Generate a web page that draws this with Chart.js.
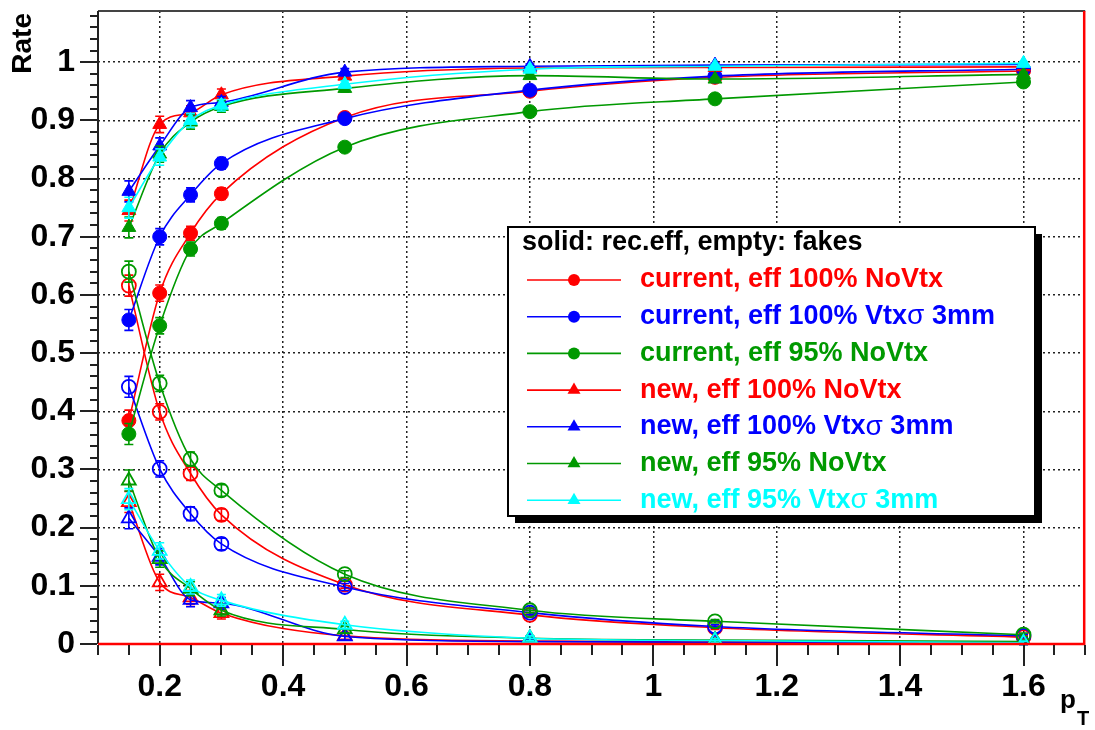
<!DOCTYPE html>
<html>
<head>
<meta charset="utf-8">
<script src="https://cdn.jsdelivr.net/npm/chart.js@4.4.0/dist/chart.umd.min.js"></script>
<style>
  html, body { margin: 0; padding: 0; background: #fff; }
  #wrap { width: 1095px; height: 730px; position: relative; }
</style>
</head>
<body>
<div id="wrap"><canvas id="rateChart" width="1095" height="730"></canvas></div>
<script>
// pT bins where the rates were evaluated
const pt = [0.15, 0.2, 0.25, 0.3, 0.5, 0.8, 1.1, 1.6];

// reconstruction efficiency (solid markers)
const effCurNoVtx    = [0.384, 0.603, 0.706, 0.774, 0.905, 0.950, 0.974, 0.985];
const effCurVtx3     = [0.557, 0.700, 0.772, 0.826, 0.903, 0.952, 0.976, 0.988];
const effCur95NoVtx  = [0.361, 0.547, 0.679, 0.723, 0.854, 0.915, 0.937, 0.966];
const effNewNoVtx    = [0.745, 0.893, 0.913, 0.944, 0.976, 0.990, 0.991, 0.992];
const effNewVtx3     = [0.778, 0.856, 0.922, 0.931, 0.983, 0.993, 0.995, 0.996];
const effNew95NoVtx  = [0.716, 0.842, 0.897, 0.924, 0.955, 0.977, 0.971, 0.979];
const effNew95Vtx3   = [0.750, 0.837, 0.900, 0.926, 0.962, 0.988, 0.993, 0.998];

// fake rates (open markers)
const fakeCurNoVtx   = [0.616, 0.399, 0.293, 0.222, 0.102, 0.050, 0.028, 0.012];
const fakeCurVtx3    = [0.442, 0.301, 0.224, 0.172, 0.098, 0.054, 0.030, 0.014];
const fakeCur95NoVtx = [0.640, 0.448, 0.318, 0.264, 0.120, 0.058, 0.039, 0.016];
const fakeNewNoVtx   = [0.244, 0.106, 0.080, 0.053, 0.014, 0.005, 0.004, 0.002];
const fakeNewVtx3    = [0.216, 0.150, 0.076, 0.070, 0.013, 0.004, 0.003, 0.002];
const fakeNew95NoVtx = [0.281, 0.146, 0.095, 0.058, 0.025, 0.010, 0.007, 0.004];
const fakeNew95Vtx3  = [0.249, 0.160, 0.098, 0.075, 0.033, 0.010, 0.006, 0.002];

// statistical error per pT bin
const errBars = [0.018, 0.014, 0.012, 0.010, 0.006, 0.004, 0.003, 0.003];

// axis labels
const xTicks = [0.2, 0.4, 0.6, 0.8, 1, 1.2, 1.4, 1.6];
const yTicks = [0, 0.1, 0.2, 0.3, 0.4, 0.5, 0.6, 0.7, 0.8, 0.9, 1];

const RED = '#ff0000', BLUE = '#0000ff', GREEN = '#009900', CYAN = '#00ffff';

const series = [
  { label: 'current, eff 100% NoVtx',    color: RED,   marker: 'circle',   eff: effCurNoVtx,   fake: fakeCurNoVtx },
  { label: 'current, eff 100% Vtxσ 3mm', color: BLUE,  marker: 'circle',   eff: effCurVtx3,    fake: fakeCurVtx3 },
  { label: 'current, eff 95% NoVtx',     color: GREEN, marker: 'circle',   eff: effCur95NoVtx, fake: fakeCur95NoVtx },
  { label: 'new, eff 100% NoVtx',        color: RED,   marker: 'triangle', eff: effNewNoVtx,   fake: fakeNewNoVtx },
  { label: 'new, eff 100% Vtxσ 3mm',     color: BLUE,  marker: 'triangle', eff: effNewVtx3,    fake: fakeNewVtx3 },
  { label: 'new, eff 95% NoVtx',         color: GREEN, marker: 'triangle', eff: effNew95NoVtx, fake: fakeNew95NoVtx },
  { label: 'new, eff 95% Vtxσ 3mm',      color: CYAN,  marker: 'triangle', eff: effNew95Vtx3,  fake: fakeNew95Vtx3 }
];

const FONT = '"Liberation Sans", Arial, Helvetica, sans-serif';
const X_MIN = 0.1, X_MAX = 1.7, Y_MIN = 0, Y_MAX = 1.088;

function markerRadius(marker) { return marker === 'circle' ? 7 : 8; }

// one dataset per curve: solid = efficiency, hollow = fakes
const datasets = [];
series.forEach((s, i) => {
  [['eff', true], ['fake', false]].forEach(([key, solid]) => {
    datasets.push({
      label: s.label + (solid ? '' : ' (fakes)'),
      data: pt.map((x, k) => ({ x: x, y: s[key][k] })),
      showLine: true,
      borderColor: s.color,
      borderWidth: 1.6,
      cubicInterpolationMode: 'monotone',
      pointStyle: s.marker,
      pointRadius: markerRadius(s.marker),
      pointHoverRadius: markerRadius(s.marker),
      pointBorderWidth: solid ? 1 : 1.8,
      pointBorderColor: s.color,
      pointBackgroundColor: solid ? s.color : 'rgba(0,0,0,0)',
      order: -(i * 2 + (solid ? 1 : 0)),
      errColor: s.color
    });
  });
});

// frame, ROOT-style tick marks, error bars, axis titles and the legend box
const rootStyle = {
  id: 'rootStyle',
  beforeDatasetDraw(chart, args) {
    const ds = chart.data.datasets[args.index];
    const xs = chart.scales.x, ys = chart.scales.y;
    const ctx = chart.ctx;
    ctx.save();
    ctx.strokeStyle = ds.errColor;
    ctx.lineWidth = 1.6;
    ds.data.forEach((p, k) => {
      const px = xs.getPixelForValue(p.x);
      const y1 = ys.getPixelForValue(p.y - errBars[k]);
      const y2 = ys.getPixelForValue(p.y + errBars[k]);
      ctx.beginPath();
      ctx.moveTo(px, y1); ctx.lineTo(px, y2);
      ctx.moveTo(px - 4.5, y1); ctx.lineTo(px + 4.5, y1);
      ctx.moveTo(px - 4.5, y2); ctx.lineTo(px + 4.5, y2);
      ctx.stroke();
    });
    ctx.restore();
  },
  afterDraw(chart) {
    const ctx = chart.ctx;
    const a = chart.chartArea;
    const xs = chart.scales.x, ys = chart.scales.y;
    ctx.save();

    // frame
    ctx.lineWidth = 2;
    ctx.strokeStyle = '#444';
    ctx.beginPath();
    ctx.moveTo(a.left, a.top); ctx.lineTo(a.right, a.top);
    ctx.stroke();
    ctx.strokeStyle = '#222';
    ctx.beginPath();
    ctx.moveTo(a.left, a.top); ctx.lineTo(a.left, a.bottom);
    ctx.stroke();

    // empty histogram outline drawn in red
    ctx.strokeStyle = RED;
    ctx.lineWidth = 2.5;
    ctx.beginPath();
    ctx.moveTo(a.left, ys.getPixelForValue(0));
    ctx.lineTo(xs.getPixelForValue(X_MAX) - 1, ys.getPixelForValue(0));
    ctx.lineTo(xs.getPixelForValue(X_MAX) - 1, a.top);
    ctx.stroke();

    // x ticks: minor every 0.05, major every 0.2
    ctx.strokeStyle = '#222';
    ctx.lineWidth = 2;
    ctx.beginPath();
    for (let k = 2; k <= 34; k++) {
      const px = Math.round(xs.getPixelForValue(k * 0.05));
      const len = (k % 4 === 0) ? 22 : 11;
      ctx.moveTo(px, a.bottom + 1); ctx.lineTo(px, a.bottom + len);
    }
    // y ticks: minor every 0.02, major every 0.1
    for (let k = 0; k <= 54; k++) {
      const py = Math.round(ys.getPixelForValue(k * 0.02));
      const len = (k % 5 === 0) ? 18 : 8;
      ctx.moveTo(a.left - 1, py); ctx.lineTo(a.left - len, py);
    }
    ctx.stroke();

    // axis titles
    ctx.fillStyle = '#000';
    ctx.font = 'bold 28px ' + FONT;
    ctx.save();
    ctx.translate(23, 13);
    ctx.rotate(-Math.PI / 2);
    ctx.textAlign = 'right';
    ctx.textBaseline = 'middle';
    ctx.fillText('Rate', 0, 0);
    ctx.restore();
    ctx.textAlign = 'left';
    ctx.textBaseline = 'alphabetic';
    ctx.font = 'bold 26px ' + FONT;
    ctx.fillText('p', 1060, 708);
    ctx.font = 'bold 20px ' + FONT;
    ctx.fillText('T', 1077, 725);

    // legend
    const L = { x: 508, y: 227, w: 527, h: 289, shadow: 7 };
    ctx.fillStyle = '#000';
    ctx.fillRect(L.x + L.shadow, L.y + L.shadow, L.w, L.h);
    ctx.fillStyle = '#fff';
    ctx.fillRect(L.x, L.y, L.w, L.h);
    ctx.strokeStyle = '#000';
    ctx.lineWidth = 2;
    ctx.strokeRect(L.x, L.y, L.w, L.h);

    ctx.fillStyle = '#000';
    ctx.font = 'bold 27px ' + FONT;
    ctx.textBaseline = 'middle';
    ctx.fillText('solid: rec.eff, empty: fakes', 522, 243);

    series.forEach((s, i) => {
      const cy = 280 + i * 36.7;
      ctx.strokeStyle = s.color;
      ctx.lineWidth = 1.6;
      ctx.beginPath();
      ctx.moveTo(527, cy); ctx.lineTo(621, cy);
      ctx.stroke();
      ctx.fillStyle = s.color;
      ctx.beginPath();
      if (s.marker === 'circle') {
        ctx.arc(574, cy, 6, 0, Math.PI * 2);
      } else {
        const r = 7.5;
        ctx.moveTo(574, cy - r);
        ctx.lineTo(574 + r * 0.866, cy + r * 0.5);
        ctx.lineTo(574 - r * 0.866, cy + r * 0.5);
        ctx.closePath();
      }
      ctx.fill();

      // sigma is set in the regular symbol face, the rest in bold
      let tx = 640;
      s.label.split(/(σ)/).forEach(part => {
        if (!part) return;
        ctx.font = (part === 'σ' ? '28px ' : 'bold 27px ') + FONT;
        ctx.fillText(part, tx, cy);
        tx += ctx.measureText(part).width;
      });
    });

    ctx.restore();
  }
};

const gridStyle = { color: '#222', lineWidth: 1.5, drawTicks: false };
const tickFont = { family: FONT, size: 32, weight: 'bold' };

new Chart(document.getElementById('rateChart'), {
  type: 'scatter',
  data: { datasets: datasets },
  options: {
    responsive: false,
    animation: false,
    layout: { padding: { left: 0, right: -1, top: 11, bottom: 0 } },
    plugins: { legend: { display: false }, tooltip: { enabled: false } },
    scales: {
      x: {
        type: 'linear',
        min: X_MIN, max: X_MAX,
        afterFit: s => { s.height = 86; s.paddingLeft = 0; s.paddingRight = 0; },
        afterBuildTicks: s => { s.ticks = xTicks.map(v => ({ value: v })); },
        border: { display: false, dash: [2, 3] },
        grid: gridStyle,
        ticks: {
          padding: 24,
          color: '#000',
          font: tickFont,
          callback: v => String(Math.round(v * 10) / 10)
        }
      },
      y: {
        type: 'linear',
        min: Y_MIN, max: Y_MAX,
        afterFit: s => { s.width = 98; s.paddingTop = 0; s.paddingBottom = 0; },
        afterBuildTicks: s => { s.ticks = yTicks.map(v => ({ value: v })); },
        border: { display: false, dash: [2, 3] },
        grid: gridStyle,
        ticks: {
          padding: 23,
          color: '#000',
          font: tickFont,
          callback: v => String(Math.round(v * 10) / 10)
        }
      }
    }
  },
  plugins: [rootStyle]
});
</script>
</body>
</html>
